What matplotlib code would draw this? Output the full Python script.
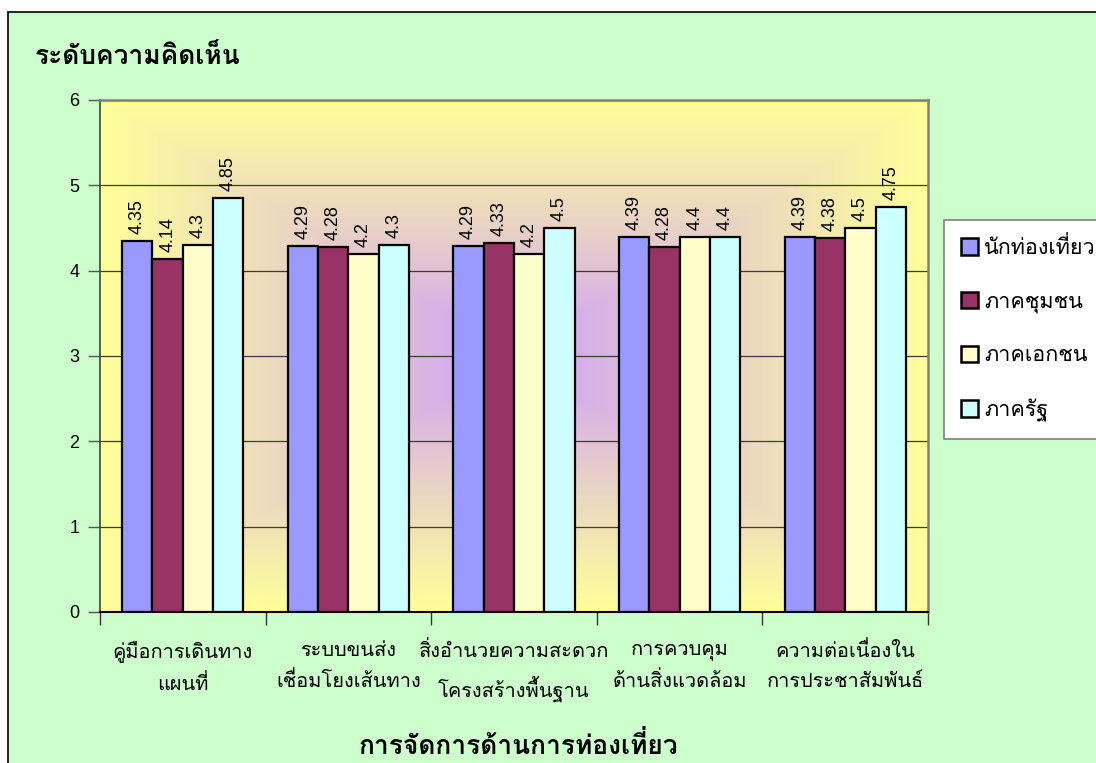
import numpy as np
import matplotlib
matplotlib.use('Agg')
import matplotlib.pyplot as plt
from matplotlib.patches import Patch, Rectangle

THAI = ['Loma', 'DejaVu Sans']
NUM = ['Liberation Sans', 'DejaVu Sans']

categories = ['คู่มือการเดินทาง\nแผนที่', 'ระบบขนส่ง\nเชื่อมโยงเส้นทาง',
              'สิ่งอำนวยความสะดวก\nโครงสร้างพื้นฐาน', 'การควบคุม\nด้านสิ่งแวดล้อม',
              'ความต่อเนื่องใน\nการประชาสัมพันธ์']
series_names = ['นักท่องเที่ยว', 'ภาคชุมชน', 'ภาคเอกชน', 'ภาครัฐ']
tourists = [4.35, 4.29, 4.29, 4.39, 4.39]
community = [4.14, 4.28, 4.33, 4.28, 4.38]
private = [4.3, 4.2, 4.2, 4.4, 4.5]
government = [4.85, 4.3, 4.5, 4.4, 4.75]
series = [tourists, community, private, government]
colors = ['#9999FF', '#993366', '#FFFFCC', '#CCFFFF']

# matplotlib has no Thai shaping: Loma's tone marks sit high by default,
# so swap in the low PUA forms when there is no upper vowel underneath
LOW = {0x0E48: 0xF70A, 0x0E49: 0xF70B, 0x0E4A: 0xF70C, 0x0E4B: 0xF70D, 0x0E4C: 0xF70E}
UPPER = set(range(0x0E34, 0x0E38)) | {0x0E31, 0x0E47, 0x0E4D}


def thai(s):
    out = []
    for i, ch in enumerate(s):
        o = ord(ch)
        if o in LOW and not (i > 0 and ord(s[i - 1]) in UPPER):
            out.append(chr(LOW[o]))
        else:
            out.append(ch)
    return ''.join(out)


fig = plt.figure(figsize=(10.96, 7.63), dpi=100, facecolor='white')

# outer chart frame (green, runs off the right/bottom edge)
fig.patches.append(Rectangle((8 / 1096, -0.1), 1.1, 1.1 - 12 / 763,
                             transform=fig.transFigure, facecolor='#CCFFCC',
                             edgecolor='black', lw=1.2, zorder=-10))

pos = [100 / 1096, 1 - 612 / 763, 828 / 1096, 512 / 763]

# plot area: "from centre" gradient purple -> yellow
bg = fig.add_axes(pos, zorder=0)
gx, gy = np.meshgrid(np.linspace(-1, 1, 400), np.linspace(-1, 1, 300))
t = np.clip(np.maximum(np.abs(gx), np.abs(gy)), 0, 1)[..., None] ** 0.85
purple = np.array([204, 153, 255]) / 255
yellow = np.array([255, 255, 153]) / 255
bg.imshow(purple * (1 - t) + yellow * t, aspect='auto', extent=[0, 1, 0, 1],
          interpolation='bilinear')
bg.axis('off')

ax = fig.add_axes(pos, zorder=1)
ax.set_facecolor('none')

x = np.arange(len(categories))
w = 0.183
for i, (vals, c, name) in enumerate(zip(series, colors, series_names)):
    bars = ax.bar(x + (i - 1.5) * w, vals, width=w, color=c, edgecolor='black',
                  lw=1.6, label=name, zorder=3)
    for b, v in zip(bars, vals):
        ax.annotate('%g' % v, (b.get_x() + b.get_width() / 2, v),
                    xytext=(0, 5), textcoords='offset points', rotation=90,
                    ha='center', va='bottom', fontsize=13, family=NUM, zorder=4)

ax.set_xlim(-0.5, len(categories) - 0.5)
ax.set_ylim(0, 6)
ax.set_yticks(range(7))
ax.yaxis.grid(True, color='#3a3a3a', lw=0.9)
ax.set_axisbelow(True)

ax.set_xticks(np.arange(len(categories) + 1) - 0.5)
ax.set_xticklabels([])
ax.set_xticks(x, minor=True)
ax.set_xticklabels([thai(c) for c in categories], minor=True, family=THAI,
                   fontsize=14.4, linespacing=1.7)
ax.tick_params(axis='x', which='major', length=9, width=1, color='#333333')
ax.tick_params(axis='x', which='minor', length=0, pad=21)
ax.tick_params(axis='y', length=9, width=1, color='#555555', pad=6)
for lbl in ax.get_yticklabels():
    lbl.set_family(NUM)
    lbl.set_fontsize(13)

for s in ['top', 'right']:
    ax.spines[s].set_color('#808080')
    ax.spines[s].set_lw(1.8)
ax.spines['left'].set_color('#404040')
ax.spines['left'].set_lw(1.2)
ax.spines['bottom'].set_color('black')
ax.spines['bottom'].set_lw(1.5)

fig.text(35 / 1096, 1 - 57 / 763, thai('ระดับความคิดเห็น'), family=THAI, fontsize=19,
         fontweight='bold', ha='left', va='center')
fig.text(518 / 1096, 1 - 745 / 763, thai('การจัดการด้านการท่องเที่ยว'), family=THAI,
         fontsize=19, fontweight='bold', ha='center', va='center')

handles = [Patch(facecolor=c, edgecolor='black', lw=1.8) for c in colors]
leg = fig.legend(handles, [thai(n) for n in series_names], loc='upper left',
                 bbox_to_anchor=(944 / 1096, 1 - 220 / 763),
                 prop={'family': THAI, 'size': 15.5}, frameon=True, fancybox=False,
                 edgecolor='#808080', facecolor='white', framealpha=1,
                 handlelength=0.8, handleheight=0.8, handletextpad=0.25,
                 labelspacing=1.5, borderpad=0.8, borderaxespad=0)
leg.get_frame().set_linewidth(1.2)

fig.savefig('out.png', dpi=100, facecolor=fig.get_facecolor())
